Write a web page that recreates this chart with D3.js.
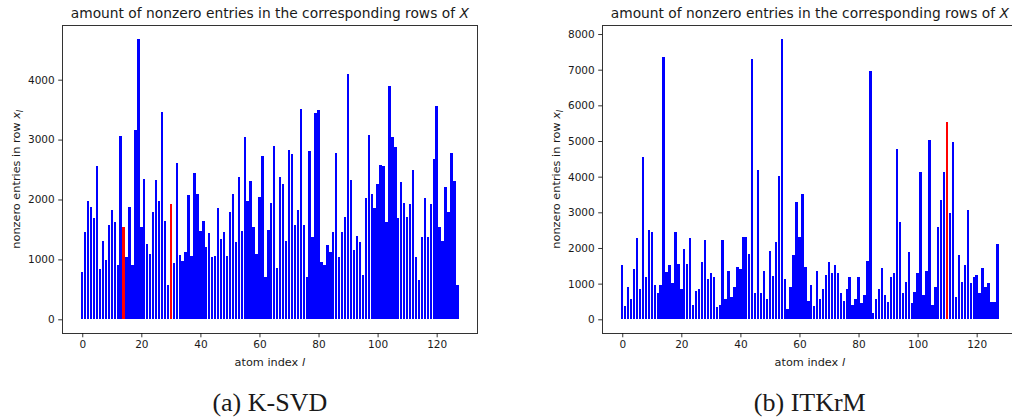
<!DOCTYPE html>
<html>
<head>
<meta charset="utf-8">
<script src="https://cdn.jsdelivr.net/npm/d3@7"></script>
<style>
  body { margin: 0; background: #fff; }
  svg { display: block; }
  text { font-family: "DejaVu Sans", sans-serif; fill: #1a1a1a; }
</style>
</head>
<body>
<svg id="fig" width="1012" height="420"></svg>
<script>
// Number of nonzero entries per row of the coefficient matrix, one value per atom.
const atomCount = 128;

const ksvdCounts = [
  796,1458,1981,1881,1692,2560,846,1302,990,1580,
  1825,1625,913,3061,1536,1035,1881,902,3161,4674,
  1536,2337,1258,1091,1797,2326,1981,3461,1647,573,
  1925,935,2616,1068,979,1119,2076,1063,2437,2092,
  1480,1647,1213,1436,1046,1063,1853,1341,1452,1063,
  1797,2092,1297,2371,1480,3038,1981,2315,1547,1091,
  2037,2727,712,1491,1937,2894,851,2371,2259,1302,
  2827,2760,1575,1825,3506,1575,712,2810,1380,3450,
  3495,952,907,1241,1119,1452,2771,1035,1452,1703,
  4096,2326,1158,1397,1286,740,2020,3077,2092,1853,
  2259,2577,2565,1631,3896,3038,2872,1686,2287,1937,
  1703,1925,2493,1035,657,1380,2020,1380,1925,2671,
  3562,1547,1302,2215,1797,2771,2315,573
];

const itkrmCounts = [
  1524,374,897,570,1412,2272,851,4543,1197,2505,
  2440,963,729,963,7348,1318,1524,1010,2440,1552,
  851,1963,1552,2272,402,804,851,1599,2225,1131,
  1290,1197,337,402,2225,570,1365,617,897,1477,
  1412,2318,2318,1832,7291,729,4188,729,1365,570,
  1926,1215,2159,4020,7852,1131,290,916,1804,3300,
  2318,3515,1477,523,963,374,1365,570,851,1243,
  1599,1290,1524,1290,729,523,851,1197,402,570,
  1197,449,682,1645,6964,168,570,851,1430,682,
  477,1197,1290,4767,2720,729,1038,1879,449,757,
  1290,4141,682,1365,5029,402,916,2599,3347,4141,
  5543,2991,4982,636,1804,1038,1524,3066,1010,1197,
  1243,729,1430,916,1010,477,477,2113
];

// Atoms drawn in red.
const ksvdHighlight = [14, 30];
const itkrmHighlight = [110];

const xTicks = [0, 20, 40, 60, 80, 100, 120];
const ksvdYTicks = [0, 1000, 2000, 3000, 4000];
const itkrmYTicks = [0, 1000, 2000, 3000, 4000, 5000, 6000, 7000, 8000];

const captions = ["(a) K-SVD", "(b) ITKrM"];

const svg = d3.select("#fig");

const plotW = 415.2, plotH = 308;

function drawPanel(left, top, counts, highlight, yTicks, caption) {
  const g = svg.append("g").attr("transform", `translate(${left},${top})`);
  const idx = d3.range(atomCount);

  // Bar-chart limits with 5% padding on both axes.
  const xPad = (atomCount - 1 + 0.8) * 0.05;
  const x = d3.scaleLinear()
    .domain([-0.4 - xPad, atomCount - 1 + 0.4 + xPad])
    .range([0, plotW]);
  const yMax = d3.max(counts);
  const y = d3.scaleLinear()
    .domain([-0.05 * yMax, 1.05 * yMax])
    .range([plotH, 0]);

  // Clip bars to the axes box.
  const clipId = "clip" + left;
  g.append("clipPath").attr("id", clipId)
    .append("rect").attr("width", plotW).attr("height", plotH);

  g.append("g").attr("clip-path", `url(#${clipId})`)
    .selectAll("rect").data(idx).join("rect")
    .attr("x", i => x(i - 0.4))
    .attr("width", i => x(i + 0.4) - x(i - 0.4))
    .attr("y", i => y(counts[i]))
    .attr("height", i => y(0) - y(counts[i]))
    .attr("fill", i => highlight.includes(i) ? "#ff0000" : "#0000ff")
    .attr("shape-rendering", "crispEdges");

  // Axes
  const xAxis = d3.axisBottom(x).tickValues(xTicks).tickSize(4).tickPadding(3.5)
    .tickFormat(d3.format("d"));
  const yAxis = d3.axisLeft(y).tickValues(yTicks).tickSize(4).tickPadding(3.5)
    .tickFormat(d3.format("d"));

  const gx = g.append("g").attr("transform", `translate(0,${plotH})`).call(xAxis);
  const gy = g.append("g").call(yAxis);
  [gx, gy].forEach(a => {
    a.select(".domain").remove();
    a.selectAll(".tick line").attr("stroke", "#000").attr("stroke-width", 0.8);
    a.selectAll(".tick text")
      .style("font-family", '"DejaVu Sans", sans-serif')
      .style("font-size", "10.5px")
      .attr("fill", "#1a1a1a");
  });

  // Frame
  g.append("rect")
    .attr("width", plotW).attr("height", plotH)
    .attr("fill", "none").attr("stroke", "#000").attr("stroke-width", 0.8)
    .attr("shape-rendering", "crispEdges");

  // Title
  const title = g.append("text")
    .attr("x", plotW / 2).attr("y", -7)
    .attr("text-anchor", "middle")
    .style("font-size", "13.8px");
  title.append("tspan").text("amount of nonzero entries in the corresponding rows of ");
  title.append("tspan").attr("font-style", "italic").text("X");

  // x label
  const xl = g.append("text")
    .attr("x", plotW / 2).attr("y", plotH + 33)
    .attr("text-anchor", "middle")
    .style("font-size", "11.3px");
  xl.append("tspan").text("atom index ");
  xl.append("tspan").attr("font-style", "italic").text("l");

  // y label
  const yl = g.append("text")
    .attr("transform", `translate(${-42},${plotH / 2}) rotate(-90)`)
    .attr("text-anchor", "middle")
    .style("font-size", "11.3px");
  yl.append("tspan").text("nonzero entries in row ");
  yl.append("tspan").attr("font-style", "italic").text("x");
  yl.append("tspan").attr("font-style", "italic").attr("font-size", "8px")
    .attr("dy", "3").text("l");

  // Caption under the panel
  svg.append("text")
    .attr("x", left + plotW / 2)
    .attr("y", 411)
    .attr("text-anchor", "middle")
    .style("font-family", '"Liberation Serif", "DejaVu Serif", serif')
    .style("font-size", "26px")
    .attr("fill", "#000")
    .text(caption);
}

drawPanel(62.2, 25.3, ksvdCounts, ksvdHighlight, ksvdYTicks, captions[0]);
drawPanel(602.2, 25.3, itkrmCounts, itkrmHighlight, itkrmYTicks, captions[1]);
</script>
</body>
</html>
